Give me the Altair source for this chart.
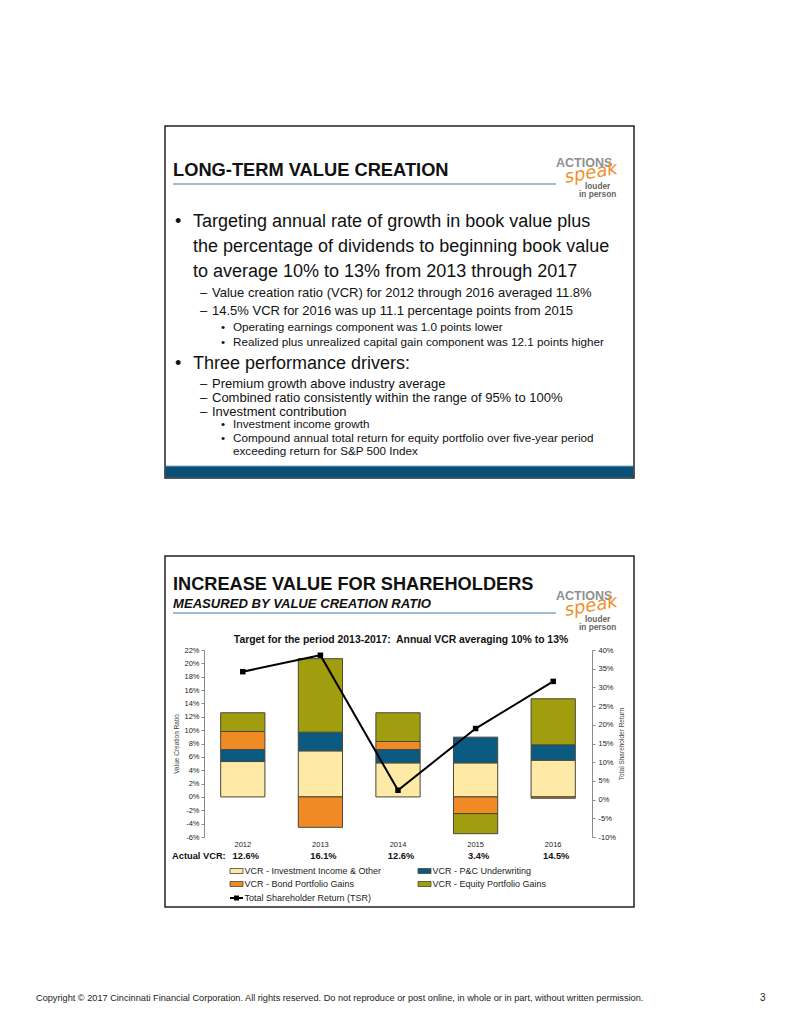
import altair as alt
import pandas as pd

# ---------------- data ----------------
years = ["2012", "2013", "2014", "2015", "2016"]
series = [
    "VCR - Investment Income & Other",
    "VCR - P&C Underwriting",
    "VCR - Bond Portfolio Gains",
    "VCR - Equity Portfolio Gains",
]
inv_income = [5.3, 6.9, 5.1, 5.1, 5.5]
pc_underwriting = [1.8, 2.8, 2.0, 3.85, 2.3]
bond_gains = [2.7, -4.55, 1.2, -2.5, -0.2]
equity_gains = [2.8, 11.0, 4.3, -3.0, 6.9]
tsr = [34.2, 38.6, 2.5, 19.0, 31.6]
actual_vcr = ["12.6%", "16.1%", "12.6%", "3.4%", "14.5%"]
colors = ["#FFE9A6", "#0B5A82", "#EF8A25", "#A09E0E"]
vcr_ticks = list(range(-6, 23, 2))
tsr_ticks = list(range(-10, 41, 5))

FONT = "Liberation Sans"

# plot-area origin on the page
OX, OY = 204, 650
W, H = 388, 187

rows = []
for i, y in enumerate(years):
    for k, (s, vals) in enumerate(zip(series, [inv_income, pc_underwriting, bond_gains, equity_gains])):
        rows.append({"year": y, "series": s, "idx": k, "value": vals[i]})
bar_df = pd.DataFrame(rows)
tsr_df = pd.DataFrame({"year": years, "tsr": tsr})
vcr_df = pd.DataFrame({"year": years, "vcr": actual_vcr})
one = pd.DataFrame({"k": [0]})

zero_px = H * 22 / 28


def T(s, x, y, size, weight="normal", style="normal", color="#111", align="left",
      font=FONT, angle=0, baseline="middle"):
    return alt.Chart(one).mark_text(
        text=s, fontSize=size, fontWeight=weight, fontStyle=style, color=color,
        align=align, baseline=baseline, font=font, angle=angle
    ).encode(x=alt.value(x - OX), y=alt.value(y - OY))


def R(x1, y1, x2, y2, **kw):
    return alt.Chart(one).mark_rect(**kw).encode(
        x=alt.value(x1 - OX), x2=alt.value(x2 - OX),
        y=alt.value(y1 - OY), y2=alt.value(y2 - OY))


def RULE(x1, y1, x2, y2, color, width):
    return alt.Chart(one).mark_rule(color=color, strokeWidth=width).encode(
        x=alt.value(x1 - OX), x2=alt.value(x2 - OX),
        y=alt.value(y1 - OY), y2=alt.value(y2 - OY))


def logo(top):
    # top = y of ACTIONS centre
    return [
        T("ACTIONS", 556, top, 12.5, weight="bold", color="#8f8f8f"),
        T("speak", 565, top + 15, 18, style="italic", weight=200, color="#F0902A",
          font="DejaVu Sans", angle=350),
        T("louder", 585, top + 24, 8.3, weight="bold", color="#666"),
        T("in person", 579, top + 32, 8.3, weight="bold", color="#666"),
    ]


layers = []
# ---- slide frames ----
layers.append(R(165, 126, 634, 478, fillOpacity=0, stroke="#222", strokeWidth=1.5))
layers.append(R(165.5, 466, 633.5, 477.5, fill="#0C4F76"))
layers.append(RULE(166, 466, 633, 466, "#7fa8c6", 1))
layers.append(R(165, 556, 634, 907, fillOpacity=0, stroke="#222", strokeWidth=1.5))

# ---- top slide text ----
layers.append(T("LONG-TERM VALUE CREATION", 173, 171, 18.3, weight="bold", color="#111"))
layers.append(RULE(173, 184, 556, 184, "#7fa6c4", 1.3))
layers += logo(163)
big = 18
layers.append(T("•", 175, 222, big))
layers.append(T("Targeting annual rate of growth in book value plus", 193, 222, big))
layers.append(T("the percentage of dividends to beginning book value", 193, 247, big))
layers.append(T("to average 10% to 13% from 2013 through 2017", 193, 271.5, big))
sub = 13
layers.append(T("–", 200, 293.3, sub))
layers.append(T("Value creation ratio (VCR) for 2012 through 2016 averaged 11.8%", 212, 293.3, sub))
layers.append(T("–", 200, 310.7, sub))
layers.append(T("14.5% VCR for 2016 was up 11.1 percentage points from 2015", 212, 310.7, sub))
ss = 11.7
layers.append(T("•", 221, 326.7, ss))
layers.append(T("Operating earnings component was 1.0 points lower", 233, 326.7, ss))
layers.append(T("•", 221, 341.7, ss))
layers.append(T("Realized plus unrealized capital gain component was 12.1 points higher", 233, 341.7, ss))
layers.append(T("•", 175, 364.3, big))
layers.append(T("Three performance drivers:", 193, 364.3, big))
layers.append(T("–", 200, 384.3, sub))
layers.append(T("Premium growth above industry average", 212, 384.3, sub))
layers.append(T("–", 200, 397.7, sub))
layers.append(T("Combined ratio consistently within the range of 95% to 100%", 212, 397.7, sub))
layers.append(T("–", 200, 411.7, sub))
layers.append(T("Investment contribution", 212, 411.7, sub))
layers.append(T("•", 221, 424.3, ss))
layers.append(T("Investment income growth", 233, 424.3, ss))
layers.append(T("•", 221, 438.3, ss))
layers.append(T("Compound annual total return for equity portfolio over five-year period", 233, 438.3, ss))
layers.append(T("exceeding return for S&P 500 Index", 233, 451, ss))

# ---- bottom slide header ----
layers.append(T("INCREASE VALUE FOR SHAREHOLDERS", 173, 585, 18.2, weight="bold", color="#111"))
layers.append(T("MEASURED BY VALUE CREATION RATIO", 173, 603.5, 13.1, weight="bold", style="italic", color="#111"))
layers.append(RULE(173, 613, 556, 613, "#7fa6c4", 1.3))
layers += logo(596)
layers.append(T("Target for the period 2013-2017:\u00a0 Annual VCR averaging 10% to 13%", 401, 639.5, 10.4,
                weight="bold", align="center"))

# ---- chart ----
axis_grey = "#8a8a8a"
bars = alt.Chart(bar_df).mark_bar(width={"band": 0.57}, stroke="#4a4636", strokeWidth=1).encode(
    x=alt.X("year:N", sort=years, scale=alt.Scale(paddingInner=0, paddingOuter=0),
            axis=alt.Axis(orient="bottom", position=zero_px, labels=False, ticks=True, tickSize=3,
                          bandPosition=0, domainColor=axis_grey, tickColor=axis_grey, title=None,
                          grid=False)),
    y=alt.Y("value:Q", stack="zero", scale=alt.Scale(domain=[-6, 22], nice=False, zero=False),
            axis=alt.Axis(values=vcr_ticks, labelExpr="datum.value + '%'", tickSize=3,
                          tickColor=axis_grey, domainColor=axis_grey, labelFontSize=7.5,
                          labelColor="#222", labelPadding=2, grid=False, labelFont=FONT,
                          title="Value Creation Ratio", titleFontSize=6.5, titleFontWeight="normal",
                          titleColor="#444", titleFont=FONT, titlePadding=4)),
    color=alt.Color("series:N", scale=alt.Scale(domain=series, range=colors), legend=None),
    order=alt.Order("idx:Q"),
)

line = alt.Chart(tsr_df).mark_line(
    color="black", strokeWidth=2,
    point=alt.OverlayMarkDef(shape="square", size=30, filled=True, color="black"),
).encode(
    x=alt.X("year:N", sort=years, axis=None),
    y=alt.Y("tsr:Q", scale=alt.Scale(domain=[-10, 40], nice=False, zero=False),
            axis=alt.Axis(orient="right", values=tsr_ticks, labelExpr="datum.value + '%'", tickSize=3,
                          tickColor=axis_grey, domainColor=axis_grey, labelFontSize=7.5,
                          labelColor="#222", labelPadding=3, grid=False, labelFont=FONT,
                          title="Total Shareholder Return", titleFontSize=6.5, titleFontWeight="normal",
                          titleColor="#444", titleFont=FONT, titleAngle=270, titlePadding=9)),
)

year_labels = alt.Chart(tsr_df).mark_text(fontSize=7.5, color="#222", font=FONT).encode(
    x=alt.X("year:N", sort=years, axis=None), y=alt.value(844.7 - OY), text="year:N")
vcr_labels = alt.Chart(vcr_df).mark_text(fontSize=9.3, fontWeight="bold", color="#111", font=FONT, dx=3).encode(
    x=alt.X("year:N", sort=years, axis=None), y=alt.value(856 - OY), text="vcr:N")

layers.append(T("Actual VCR:", 172, 856, 9.3, weight="bold"))

# ---- legend ----
leg = [(series[0], colors[0], 230, 871), (series[1], colors[1], 418, 871),
       (series[2], colors[2], 230, 884), (series[3], colors[3], 418, 884)]
for name, c, lx, ly in leg:
    layers.append(R(lx, ly - 2.5, lx + 13, ly + 2.5, fill=c, stroke="#4a4636", strokeWidth=0.8))
    layers.append(T(name, lx + 14.5, ly, 9, color="#222"))
layers.append(RULE(230, 898, 243, 898, "black", 2))
layers.append(R(234, 895.5, 239, 900.5, fill="black"))
layers.append(T("Total Shareholder Return (TSR)", 244.5, 898, 9, color="#222"))

# ---- footer ----
layers.append(T("Copyright © 2017 Cincinnati Financial Corporation. All rights reserved. Do not reproduce or post online, in whole or in part, without written permission.",
                36, 998, 9.2, color="#222"))
layers.append(T("3", 760, 998, 10, color="#222"))

chart = alt.layer(*layers, bars, line, year_labels, vcr_labels).resolve_scale(y="independent").properties(
    width=W, height=H,
    padding={"left": OX, "top": OY, "right": 799 - OX - W, "bottom": 1034 - OY - H},
    autosize=alt.AutoSizeParams(type="none"),
    background="white",
).configure_view(stroke=None)

chart.save("out.html", embed_options={"renderer": "svg", "actions": False})
